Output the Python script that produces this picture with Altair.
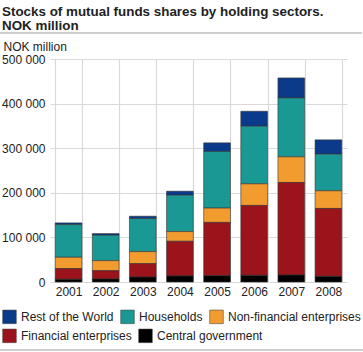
import altair as alt
import pandas as pd

years = ["2001", "2002", "2003", "2004", "2005", "2006", "2007", "2008"]
central_government = [6000, 6700, 11200, 13500, 14200, 14900, 15700, 12700]
financial_enterprises = [24000, 18700, 30000, 77800, 119400, 156700, 207400, 152200]
non_financial_enterprises = [25400, 22500, 26900, 21700, 32100, 48500, 57500, 39600]
households = [73300, 56900, 74100, 81600, 126800, 129200, 132100, 82100]
rest_of_world = [3800, 3700, 5300, 9000, 19500, 33500, 44800, 32100]

sectors = ["Rest of the World", "Households", "Non-financial enterprises",
           "Financial enterprises", "Central government"]
colors = ["#0b3a8b", "#1a9893", "#f29c30", "#9b141c", "#000000"]
series = [rest_of_world, households, non_financial_enterprises,
          financial_enterprises, central_government]

rows = []
for si, (name, vals) in enumerate(zip(sectors, series)):
    for y, v in zip(years, vals):
        rows.append({"year": y, "sector": name, "value": v, "ord": len(sectors) - si})
df = pd.DataFrame(rows)

FONT = "Liberation Sans"

bars = alt.Chart(df).mark_bar(stroke="#333333", strokeWidth=0.6).encode(
    x=alt.X("year:O", title=None,
            scale=alt.Scale(paddingInner=0.28, paddingOuter=0.14),
            axis=alt.Axis(labelAngle=0, ticks=False, domain=False, grid=True,
                          tickBand="extent", labelPadding=4)),
    y=alt.Y("value:Q", title="NOK million",
            scale=alt.Scale(domain=[0, 500000]),
            axis=alt.Axis(values=[0, 100000, 200000, 300000, 400000, 500000],
                          labelExpr="replace(format(datum.value, ',d'), /,/g, ' ')",
                          ticks=False, domain=False, labelPadding=5,
                          titleAngle=0, titleAlign="left", titleBaseline="alphabetic",
                          titleX=-47, titleY=-9, titleFontWeight="normal")),
    color=alt.Color("sector:N", scale=alt.Scale(domain=sectors, range=colors), legend=None),
    order=alt.Order("ord:Q", sort="ascending"),
)


def legend_layer(names, cols, ypos):
    ldf = pd.DataFrame({"sector": names})
    return alt.Chart(ldf).mark_square(size=1, filled=True, opacity=0).encode(
        x=alt.value(100), y=alt.value(100),
        color=alt.Color("sector:N", scale=alt.Scale(domain=names, range=cols),
                        legend=alt.Legend(title=None, orient="none", legendX=-48,
                                          legendY=ypos, direction="horizontal",
                                          symbolType="square", symbolSize=185,
                                          symbolStrokeColor="#333333", symbolStrokeWidth=0.5,
                                          symbolOpacity=1, labelFontSize=12,
                                          labelColor="#222222", labelOffset=4,
                                          columnPadding=5, labelLimit=300)),
    )


leg1 = legend_layer(sectors[:3], colors[:3], 250)
leg2 = legend_layer(sectors[3:], colors[3:], 269)

line_data = alt.Data(values=[{"a": 1}])
top_line = alt.Chart(line_data).mark_rule(color="#cfcfcf", strokeWidth=2).encode(
    x=alt.value(-50), x2=alt.value(312), y=alt.value(-26))
bottom_line = alt.Chart(line_data).mark_rule(color="#cfcfcf", strokeWidth=2).encode(
    x=alt.value(-50), x2=alt.value(313), y=alt.value(291))

chart = alt.layer(bars, leg1, leg2, top_line, bottom_line).resolve_scale(
    color="independent"
).resolve_legend(color="independent").properties(
    width=297, height=223,
    title=alt.TitleParams(
        ["Stocks of mutual funds shares by holding sectors.", "NOK million"],
        anchor="start", frame="group", dx=-48, fontSize=13.4, fontWeight="bold",
        font=FONT, color="#222222", lineHeight=14, offset=0),
    autosize=alt.AutoSizeParams(type="none"),
    padding={"left": 50, "top": 59, "right": 16, "bottom": 70},
).configure(font=FONT).configure_view(stroke=None).configure_axis(
    labelFont=FONT, titleFont=FONT, labelFontSize=12, titleFontSize=12,
    labelColor="#222222", titleColor="#222222", gridColor="#d9d9d9", gridWidth=1.2,
).configure_legend(labelFont=FONT)

chart.save("out.html", embed_options={"renderer": "svg", "actions": False})
